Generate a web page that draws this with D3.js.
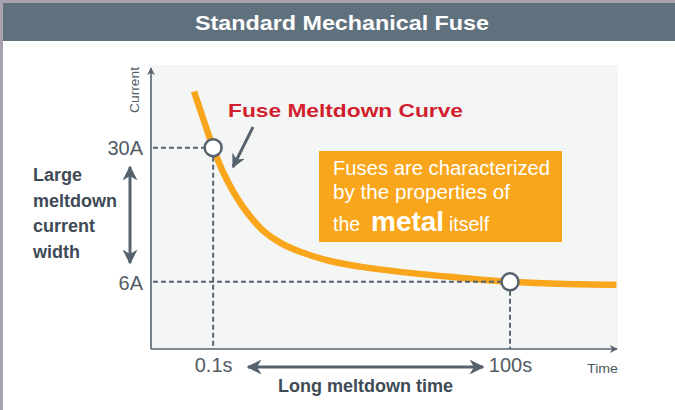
<!DOCTYPE html>
<html><head><meta charset="utf-8">
<script src="https://cdn.jsdelivr.net/npm/d3@7"></script>
<style>
html,body{margin:0;padding:0;background:#fff;}
svg{display:block;font-family:"Liberation Sans",Arial,Helvetica,sans-serif;}
</style></head>
<body>
<svg id="c" width="675" height="410"></svg>
<script>
// ---- data ----
const chartTitle = "Standard Mechanical Fuse";
const curveTime    = [0.064, 0.074, 0.085, 0.1, 0.123, 0.156, 0.211, 0.313, 0.475, 0.757, 1.52, 3.05, 7.74, 24.8, 100, 320, 1190];
const curveCurrent = [58.8, 47.3, 38.2, 30, 23.0, 18.1, 14.2, 11.2, 9.6, 8.6, 7.7, 7.2, 6.76, 6.37, 6.0, 5.86, 5.79];
const markerTime    = [0.1, 100];
const markerCurrent = [30, 6];
const xTickValues = [0.1, 100];
const xTickLabels = ["0.1s", "100s"];
const yTickValues = [30, 6];
const yTickLabels = ["30A", "6A"];
const curveLabel = "Fuse Meltdown Curve";
const noteLines = ["Fuses are characterized", "by the properties of"];
const noteLast = ["the", "metal", "itself"];
const sideLabel = ["Large", "meltdown", "current", "width"];
const bottomLabel = "Long meltdown time";

// ---- layout ----
const W = 675, H = 410;
const plot = {left: 151, right: 618, top: 65, bottom: 349};
const svg = d3.select("#c");
const slate = "#56636e", orange = "#f9a61c";

const x = d3.scaleLog().domain([0.02355, 1205]).range([151, 617]);
const y = d3.scaleLog().domain([2.68, 78]).range([349, 68]);

// outer frame
svg.append("rect").attr("width", W).attr("height", H).attr("fill", "#a8a2b0");
svg.append("rect").attr("x", 3).attr("y", 3).attr("width", W - 3).attr("height", H - 3).attr("fill", "#fff");
svg.append("rect").attr("x", 3).attr("y", 3).attr("width", W - 3).attr("height", 38).attr("fill", "#5f717d");
svg.append("text").attr("x", 342).attr("y", 30).attr("text-anchor", "middle")
  .attr("fill", "#fff").attr("font-weight", "bold").attr("font-size", 20)
  .attr("textLength", 294).attr("lengthAdjust", "spacingAndGlyphs").text(chartTitle);

// defs
const defs = svg.append("defs");
function marker(id, w, h) {
  defs.append("marker").attr("id", id).attr("viewBox", "0 0 10 10").attr("refX", 9).attr("refY", 5)
    .attr("markerUnits", "userSpaceOnUse").attr("markerWidth", w).attr("markerHeight", h)
    .attr("orient", "auto-start-reverse")
    .append("path").attr("d", "M0,0 L10,5 L0,10 L3,5 Z").attr("fill", slate);
}
marker("axArrow", 8, 8);
marker("bigArrow", 16, 15);
marker("ptArrow", 14, 14);

// plot background
svg.append("rect").attr("x", plot.left).attr("y", plot.top)
  .attr("width", plot.right - plot.left).attr("height", plot.bottom - plot.top).attr("fill", "#f4f6f6");

// axes lines with arrows
svg.append("line").attr("x1", x.range()[0]).attr("x2", x.range()[0]).attr("y1", y.range()[0]).attr("y2", y.range()[1])
  .attr("stroke", slate).attr("stroke-width", 1.6).attr("marker-end", "url(#axArrow)");
svg.append("line").attr("x1", x.range()[0]).attr("x2", x.range()[1]).attr("y1", y.range()[0]).attr("y2", y.range()[0])
  .attr("stroke", slate).attr("stroke-width", 1.6).attr("marker-end", "url(#axArrow)");

// tick labels via axes
const yAxis = d3.axisLeft(y).tickValues(yTickValues).tickFormat((d, i) => yTickLabels[i]).tickSize(0).tickPadding(8);
const gy = svg.append("g").attr("transform", `translate(${x.range()[0]},0)`).call(yAxis);
gy.select(".domain").remove();
gy.selectAll("text").attr("font-size", 20).attr("fill", "#525c65").attr("font-family", "Liberation Sans, Arial, sans-serif").attr("dy", "0.36em");

const xAxis = d3.axisBottom(x).tickValues(xTickValues).tickFormat((d, i) => xTickLabels[i]).tickSize(0).tickPadding(9);
const gx = svg.append("g").attr("transform", `translate(0,${y.range()[0]})`).call(xAxis);
gx.select(".domain").remove();
gx.selectAll("text").attr("font-size", 20).attr("fill", "#525c65").attr("font-family", "Liberation Sans, Arial, sans-serif");

// axis titles
svg.append("text").attr("transform", "translate(139,90) rotate(-90)").attr("text-anchor", "middle")
  .attr("font-size", 13).attr("fill", "#4f5a63").attr("textLength", 46).attr("lengthAdjust", "spacingAndGlyphs").text("Current");
svg.append("text").attr("x", 618).attr("y", 373).attr("text-anchor", "end")
  .attr("font-size", 13).attr("fill", "#4f5a63").attr("textLength", 31).attr("lengthAdjust", "spacingAndGlyphs").text("Time");

// curve
const pts = curveTime.map((t, i) => [x(t), y(curveCurrent[i])]);
svg.append("path").attr("d", d3.line().curve(d3.curveCatmullRom.alpha(0.5))(pts))
  .attr("fill", "none").attr("stroke", orange).attr("stroke-width", 6.5).attr("stroke-linecap", "butt");

// dashed guides
markerTime.forEach((t, i) => {
  const cx = x(t), cy = y(markerCurrent[i]);
  svg.append("line").attr("x1", x.range()[0] + 2).attr("x2", cx - 9).attr("y1", cy).attr("y2", cy)
    .attr("stroke", slate).attr("stroke-width", 2).attr("stroke-dasharray", "5,3");
  svg.append("line").attr("x1", cx).attr("x2", cx).attr("y1", cy + 9).attr("y2", y.range()[0])
    .attr("stroke", slate).attr("stroke-width", 2).attr("stroke-dasharray", "5,3");
  svg.append("circle").attr("cx", cx).attr("cy", cy).attr("r", 8.5)
    .attr("fill", "#fff").attr("stroke", slate).attr("stroke-width", 2.5);
});

// curve label + pointer
svg.append("text").attr("x", 228).attr("y", 117).attr("font-size", 19).attr("font-weight", "bold")
  .attr("fill", "#d21f2f").attr("textLength", 235).attr("lengthAdjust", "spacingAndGlyphs").text(curveLabel);
svg.append("line").attr("x1", 253).attr("y1", 127).attr("x2", 233).attr("y2", 167)
  .attr("stroke", slate).attr("stroke-width", 3).attr("marker-end", "url(#ptArrow)");

// note box
svg.append("rect").attr("x", 319).attr("y", 151).attr("width", 243).attr("height", 91).attr("fill", orange);
const note = svg.append("g").attr("fill", "#fff");
const noteLens = [217, 177];
noteLines.forEach((l, i) => {
  note.append("text").attr("x", 333).attr("y", 175 + i * 24).attr("font-size", 19.5)
    .attr("textLength", noteLens[i]).attr("lengthAdjust", "spacingAndGlyphs").text(l);
});
const last = note.append("text").attr("y", 231).attr("font-size", 19.5);
last.append("tspan").attr("x", 333).text(noteLast[0]);
last.append("tspan").attr("x", 371).attr("font-weight", "bold").attr("font-size", 28).text(noteLast[1]);
last.append("tspan").attr("x", 449).text(noteLast[2]);

// side label + vertical double arrow
sideLabel.forEach((l, i) => {
  svg.append("text").attr("x", 33).attr("y", 181 + i * 25.6).attr("font-size", 18).attr("font-weight", "bold")
    .attr("fill", "#3e4b56").text(l);
});
svg.append("line").attr("x1", 130).attr("x2", 130).attr("y1", 167).attr("y2", 263)
  .attr("stroke", slate).attr("stroke-width", 3)
  .attr("marker-start", "url(#bigArrow)").attr("marker-end", "url(#bigArrow)");

// bottom double arrow + label
svg.append("line").attr("x1", 248).attr("x2", 483).attr("y1", 367).attr("y2", 367)
  .attr("stroke", slate).attr("stroke-width", 3)
  .attr("marker-start", "url(#bigArrow)").attr("marker-end", "url(#bigArrow)");
svg.append("text").attr("x", 278).attr("y", 392).attr("font-size", 18).attr("font-weight", "bold")
  .attr("fill", "#3e4b56").attr("textLength", 175).attr("lengthAdjust", "spacingAndGlyphs").text(bottomLabel);
</script>
</body></html>
